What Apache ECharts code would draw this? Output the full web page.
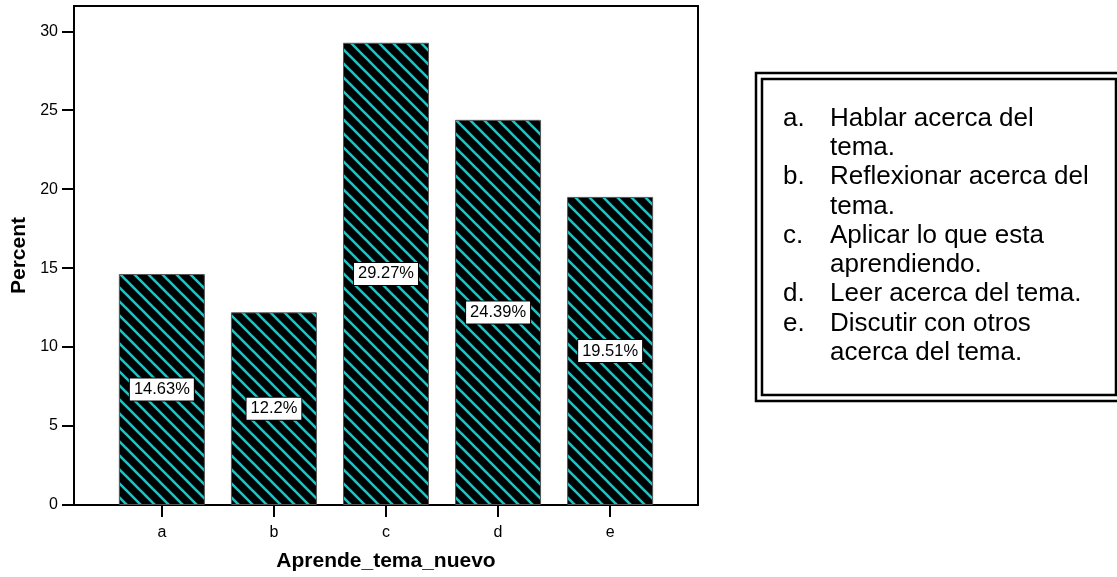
<!DOCTYPE html>
<html>
<head>
<meta charset="utf-8">
<script src="https://cdn.jsdelivr.net/npm/echarts@6/dist/echarts.min.js"></script>
<style>
  html, body { margin: 0; padding: 0; background: #fff; }
  #chart { width: 1117px; height: 577px; }
</style>
</head>
<body>
<div id="chart"></div>
<script>
// Response categories and their percentages
const categories = ['a', 'b', 'c', 'd', 'e'];
const percents = [14.63, 12.2, 29.27, 24.39, 19.51];
const yTicks = [0, 5, 10, 15, 20, 25, 30];

// Key explaining each category letter (letter, then wrapped text lines)
const keyLetters = ['a.', 'b.', 'c.', 'd.', 'e.'];
const keyTexts = [
  ['Hablar acerca del', 'tema.'],
  ['Reflexionar acerca del', 'tema.'],
  ['Aplicar lo que esta', 'aprendiendo.'],
  ['Leer acerca del tema.'],
  ['Discutir con otros', 'acerca del tema.']
];

const FONT = "'Liberation Sans', Arial, sans-serif";

// Diagonal hatch: black ground with cyan stripes running top-left to bottom-right
function makeHatch() {
  const s = 14;
  const c = document.createElement('canvas');
  c.width = s; c.height = s;
  const ctx = c.getContext('2d');
  ctx.fillStyle = '#000';
  ctx.fillRect(0, 0, s, s);
  ctx.strokeStyle = '#10caca';
  ctx.lineWidth = 2.6;
  for (let k = -1; k <= 1; k++) {
    ctx.beginPath();
    ctx.moveTo(k * s - 2, -2);
    ctx.lineTo(k * s + s + 2, s + 2);
    ctx.stroke();
  }
  return c;
}

const chart = echarts.init(document.getElementById('chart'));

// Build the key as graphic text elements
const keyGraphics = [];
const lineH = 29.3;
let row = 0;
keyLetters.forEach((letter, i) => {
  keyTexts[i].forEach((line, j) => {
    const y = 118.5 + row * lineH;
    if (j === 0) {
      keyGraphics.push({
        type: 'text', left: 783, top: y - 13,
        style: { text: letter, font: '26px ' + FONT, fill: '#000' }
      });
    }
    keyGraphics.push({
      type: 'text', left: 830, top: y - 13,
      style: { text: line, font: '26px ' + FONT, fill: '#000' }
    });
    row++;
  });
});

const option = {
  animation: false,
  backgroundColor: '#fff',
  grid: {
    left: 74, top: 6, width: 624, height: 500,
    show: true, borderColor: '#000', borderWidth: 2, backgroundColor: 'transparent'
  },
  xAxis: {
    type: 'value',
    min: -0.784, max: 4.784,
    name: 'Aprende_tema_nuevo',
    nameLocation: 'middle',
    nameGap: 46,
    nameTextStyle: { fontFamily: FONT, fontWeight: 'bold', fontSize: 21, color: '#000' },
    axisLine: { show: false, onZero: false },
    splitLine: { show: false },
    axisTick: {
      show: true, inside: false, length: 12,
      customValues: categories.map((_, i) => i),
      lineStyle: { color: '#000', width: 2 }
    },
    axisLabel: {
      customValues: categories.map((_, i) => i),
      formatter: v => categories[Math.round(v)],
      fontFamily: FONT, fontSize: 16, color: '#000', margin: 20
    }
  },
  yAxis: {
    type: 'value',
    min: 0, max: 31.6,
    name: 'Percent',
    nameLocation: 'middle',
    nameGap: 43,
    nameTextStyle: { fontFamily: FONT, fontWeight: 'bold', fontSize: 21, color: '#000' },
    axisLine: { show: false, onZero: false },
    splitLine: { show: false },
    axisTick: {
      show: true, inside: false, length: 12,
      customValues: yTicks,
      lineStyle: { color: '#000', width: 2 }
    },
    axisLabel: {
      customValues: yTicks,
      fontFamily: FONT, fontSize: 16, color: '#000', margin: 16
    }
  },
  series: [{
    type: 'bar',
    barWidth: 86,
    data: percents.map((v, i) => [i, v]),
    itemStyle: {
      color: { image: makeHatch(), repeat: 'repeat' },
      borderColor: '#555',
      borderWidth: 1
    },
    label: {
      show: true,
      position: 'inside',
      formatter: p => p.value[1] + '%',
      fontFamily: FONT, fontSize: 16.5, color: '#000',
      backgroundColor: '#fff', borderColor: '#000', borderWidth: 1,
      padding: [3, 4, 2, 4]
    }
  }],
  graphic: [
    // double-lined frame around the key
    {
      type: 'rect', shape: { x: 756, y: 73, width: 380, height: 328 },
      style: { fill: 'none', stroke: '#000', lineWidth: 2.5 }
    },
    {
      type: 'rect', shape: { x: 762, y: 79, width: 354, height: 316 },
      style: { fill: 'none', stroke: '#000', lineWidth: 2.5 }
    }
  ].concat(keyGraphics)
};

chart.setOption(option);
</script>
</body>
</html>
